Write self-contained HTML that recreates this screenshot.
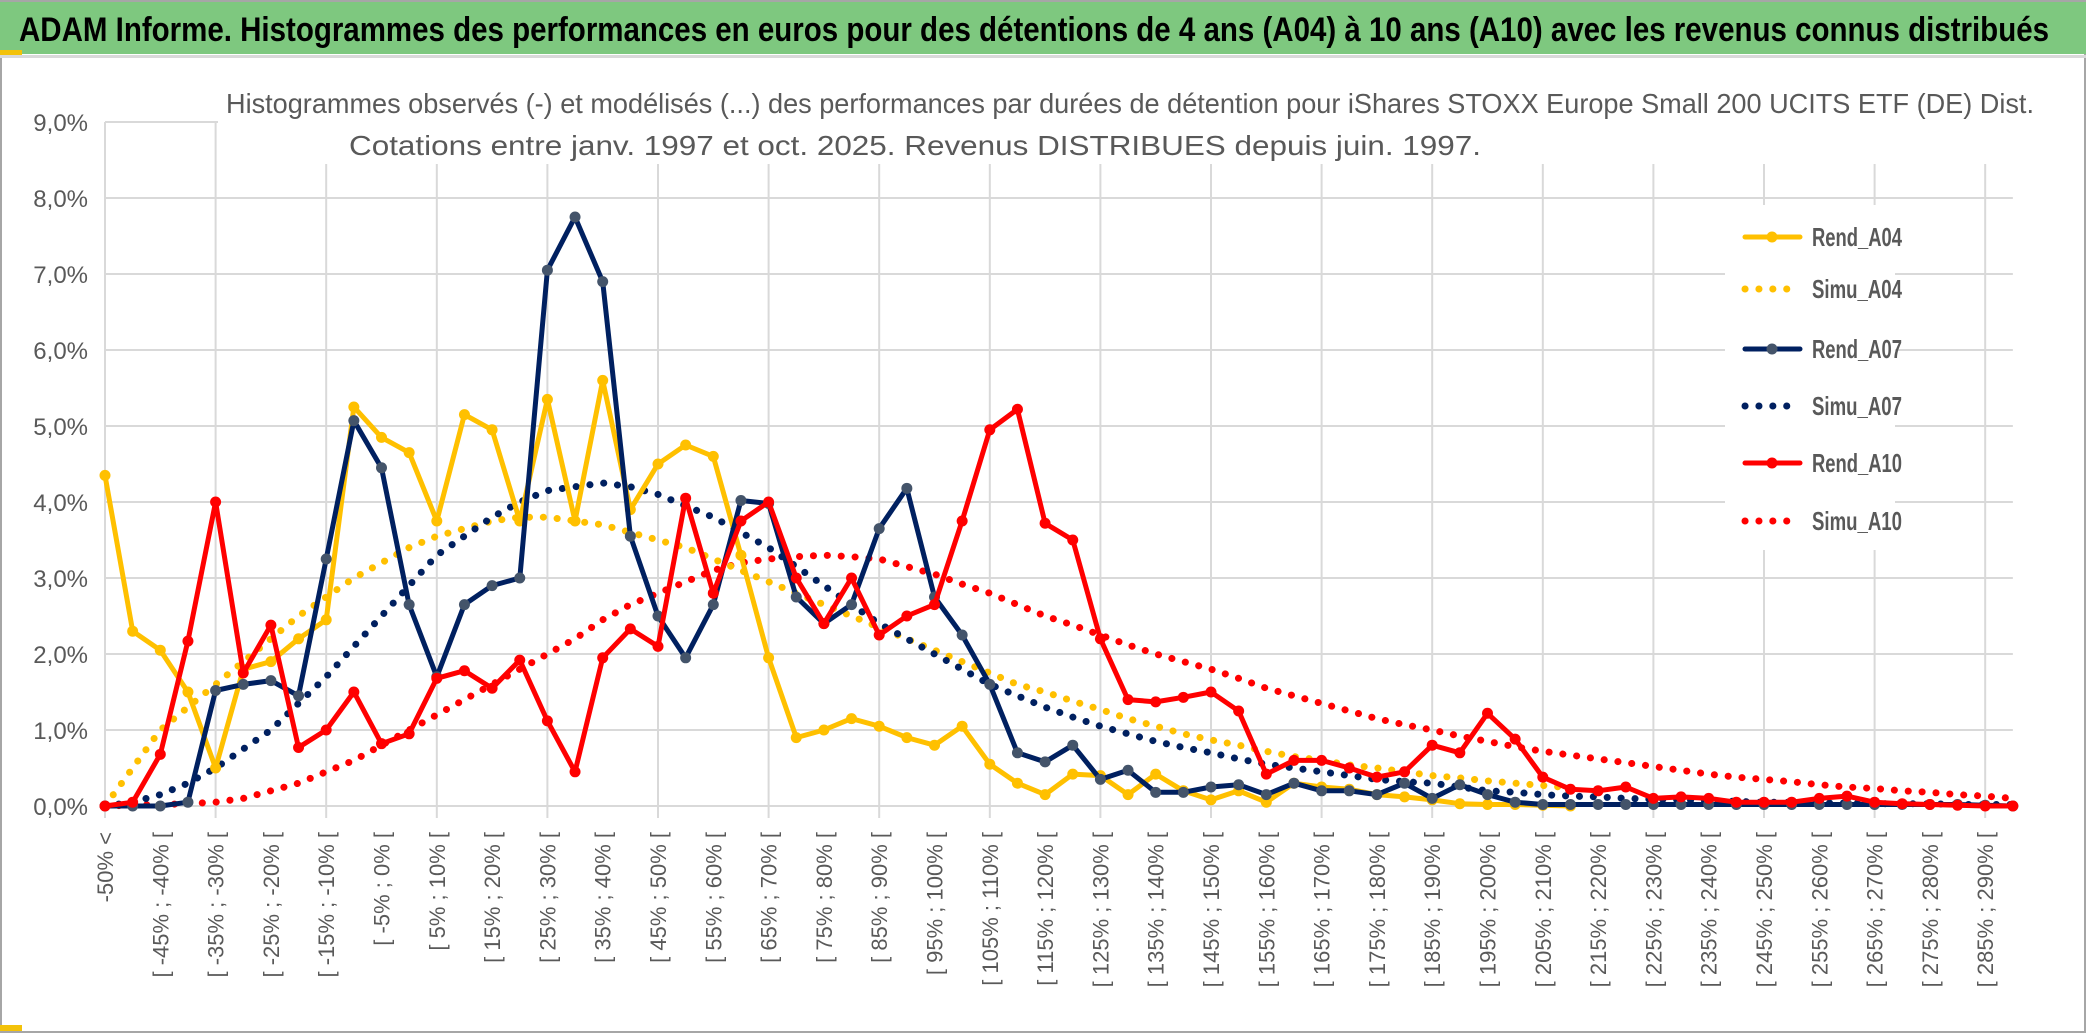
<!DOCTYPE html>
<html><head><meta charset="utf-8"><style>
html,body{margin:0;padding:0;background:#fff;}
svg{display:block;}
text{font-family:"Liberation Sans",sans-serif;}
</style></head><body>
<svg id="chart" width="2086" height="1033" viewBox="0 0 2086 1033" xmlns="http://www.w3.org/2000/svg">
<rect x="0" y="0" width="2086" height="1033" fill="#fff"/>
<rect x="1" y="1" width="2084" height="1031" fill="none" stroke="#a6a6a6" stroke-width="2"/>
<rect x="0" y="2" width="2086" height="52" fill="#7ec87f"/>
<rect x="0" y="50" width="22" height="5" fill="#f3c20a"/>
<rect x="0" y="55" width="2086" height="3" fill="#d9d9d9"/>
<rect x="0" y="1025" width="22" height="6" fill="#f3c20a"/>
<text x="1034" y="41" text-anchor="middle" font-size="34" font-weight="bold" fill="#000" textLength="2030" lengthAdjust="spacingAndGlyphs">ADAM Informe. Histogrammes des performances en euros pour des détentions de 4 ans (A04) à 10 ans (A10) avec les revenus connus distribués</text>
<g id="grid"></g>
<rect x="218" y="78" width="1820" height="86" fill="#fff"/>
<text x="1130" y="113" text-anchor="middle" font-size="28" fill="#595959" textLength="1808" lengthAdjust="spacingAndGlyphs">Histogrammes observés (-) et modélisés (...) des performances par durées de détention pour iShares STOXX Europe Small 200 UCITS ETF (DE) Dist.</text>
<text x="915" y="155" text-anchor="middle" font-size="28" fill="#595959" textLength="1132" lengthAdjust="spacingAndGlyphs">Cotations entre janv. 1997 et oct. 2025. Revenus DISTRIBUES depuis juin. 1997.</text>
<g id="yaxis"></g>
<g id="xaxis"></g>
<g id="series"></g>
<g id="legend"></g>
</svg>
<script>
const categories = ["-50% <"];
for (let k = 1; k < 70; k++) { const a = -50 + 5*(k-1); categories.push("[ " + a + "% ; " + (a+5) + "% ["); }
const yTicks = [0,1,2,3,4,5,6,7,8,9];
const rendA04 = [4.35,2.3,2.05,1.5,0.5,1.8,1.9,2.2,2.45,5.25,4.85,4.65,3.75,5.15,4.95,3.75,5.35,3.75,5.6,3.9,4.5,4.75,4.6,3.3,1.95,0.9,1.0,1.15,1.05,0.9,0.8,1.05,0.55,0.3,0.15,0.42,0.4,0.15,0.42,0.2,0.08,0.2,0.05,0.3,0.25,0.22,0.15,0.12,0.08,0.03,0.02,0.02,0.01,0,null,null,null,null,null,null,null,null,null,null,null,null,null,null,null,null];
const simuA04 = [0,0.5,1.0,1.3,1.6,1.9,2.2,2.5,2.75,3.0,3.2,3.4,3.55,3.65,3.75,3.8,3.8,3.75,3.7,3.6,3.5,3.4,3.25,3.1,2.95,2.8,2.65,2.5,2.35,2.2,2.05,1.9,1.75,1.6,1.5,1.38,1.27,1.15,1.05,0.95,0.87,0.8,0.72,0.65,0.6,0.54,0.5,0.45,0.4,0.37,0.33,0.3,0.27,0.24,null,null,null,null,null,null,null,null,null,null,null,null,null,null,null,null];
const rendA07 = [0,0,0,0.05,1.52,1.6,1.65,1.45,3.25,5.07,4.45,2.65,1.7,2.65,2.9,3.0,7.05,7.75,6.9,3.55,2.5,1.95,2.65,4.02,3.98,2.75,2.4,2.65,3.65,4.18,2.75,2.25,1.6,0.7,0.58,0.8,0.35,0.47,0.18,0.18,0.25,0.28,0.15,0.3,0.2,0.2,0.15,0.3,0.1,0.28,0.15,0.05,0.02,0.02,0.02,0.02,0.02,0.02,0.02,0.02,0.02,0.02,0.02,0.02,0.02,0.02,0.02,0.02,0.01,0];
const simuA07 = [0,0.05,0.15,0.3,0.5,0.75,1.0,1.35,1.7,2.1,2.5,2.9,3.3,3.55,3.8,4.0,4.15,4.2,4.25,4.2,4.1,3.95,3.8,3.6,3.4,3.15,2.9,2.65,2.4,2.2,2.0,1.8,1.6,1.45,1.3,1.17,1.05,0.95,0.85,0.77,0.7,0.62,0.55,0.5,0.45,0.4,0.35,0.32,0.3,0.25,0.2,0.18,0.15,0.13,0.12,0.1,0.09,0.08,0.07,0.06,0.05,0.05,0.04,0.04,0.03,0.03,0.03,0.02,0.02,0.02];
const rendA10 = [0,0.05,0.68,2.17,4.0,1.75,2.38,0.77,1.0,1.5,0.82,0.95,1.68,1.78,1.55,1.92,1.12,0.45,1.95,2.33,2.1,4.05,2.8,3.75,4.0,3.0,2.4,3.0,2.25,2.5,2.65,3.75,4.95,5.22,3.72,3.5,2.2,1.4,1.37,1.43,1.5,1.25,0.42,0.6,0.6,0.5,0.38,0.45,0.8,0.7,1.22,0.88,0.38,0.22,0.2,0.25,0.1,0.12,0.1,0.05,0.05,0.05,0.1,0.13,0.05,0.03,0.02,0.01,0,0];
const simuA10 = [0,0.01,0.02,0.03,0.05,0.1,0.2,0.3,0.45,0.6,0.8,1.0,1.2,1.4,1.6,1.8,2.0,2.2,2.45,2.65,2.8,2.95,3.1,3.2,3.25,3.28,3.3,3.28,3.25,3.15,3.05,2.92,2.8,2.65,2.5,2.38,2.25,2.12,2.0,1.9,1.8,1.68,1.55,1.45,1.35,1.25,1.15,1.07,1.0,0.92,0.85,0.78,0.72,0.67,0.62,0.57,0.52,0.47,0.42,0.38,0.35,0.32,0.28,0.25,0.23,0.2,0.18,0.15,0.13,0.1];
const seriesNames = ["Rend_A04","Simu_A04","Rend_A07","Simu_A07","Rend_A10","Simu_A10"];

const NS = "http://www.w3.org/2000/svg";
const X0 = 105, DX = 27.65, Y0 = 806, DY = 76.0;
function xs(i){ return X0 + i*DX; }
function ys(v){ return Y0 - v*DY; }
function mk(tag, attrs, parent){ const e = document.createElementNS(NS, tag); for (const k in attrs) e.setAttribute(k, attrs[k]); parent.appendChild(e); return e; }

const grid = document.getElementById('grid');
yTicks.forEach(t => {
  const l = mk('line', {x1:X0, x2:xs(69), y1:ys(t), y2:ys(t), stroke:'#d9d9d9', 'stroke-width':2}, grid);
  
  
});
for (let i = 0; i < categories.length; i += 4) {
  const l = mk('line', {x1:xs(i), x2:xs(i), y1:ys(9), y2:Y0+12, stroke:'#d9d9d9', 'stroke-width':2}, grid);
  
  
}
const yaxis = document.getElementById('yaxis');
yTicks.forEach(t => {
  const tx = mk('text', {x:88, y:ys(t)+9, 'text-anchor':'end', 'font-size':24, fill:'#595959'}, yaxis);
  tx.textContent = t.toFixed(1).replace('.', ',') + '%';
  
  
});
const xaxis = document.getElementById('xaxis');
for (let i = 0; i < categories.length; i += 2) {
  const tx = mk('text', {x:0, y:0, 'text-anchor':'end', 'font-size':22, fill:'#595959', transform:'translate(' + (xs(i)+8) + ',832) rotate(-90)'}, xaxis);
  tx.textContent = categories[i];
  
  
}
const ser = document.getElementById('series');
function drawLine(vals, color, dotted, marker, mcolor, name){
  const g = mk('g', {}, ser);
  
  
  let d = '', started = false;
  vals.forEach((v, i) => { if (v === null) { started = false; return; } d += (started ? 'L' : 'M') + xs(i).toFixed(1) + ' ' + ys(v).toFixed(1) + ' '; started = true; });
  const p = mk('path', {d:d, fill:'none', stroke:color, 'stroke-width': dotted ? 6 : 5, 'stroke-linejoin':'round', 'stroke-linecap':'round'}, g);
  if (dotted) { p.setAttribute('stroke-dasharray', '0.1 13.8'); p.setAttribute('stroke-width', 7); }
  
  
  if (marker) vals.forEach((v, i) => {
    if (v === null) return;
    const c = mk('circle', {cx:xs(i), cy:ys(v), r:5.5, fill:mcolor}, g);
    
    
  });
}
drawLine(simuA10, '#ff0000', true, false, null, 'simu-a10');
drawLine(simuA04, '#ffc000', true, false, null, 'simu-a04');
drawLine(simuA07, '#002060', true, false, null, 'simu-a07');
drawLine(rendA04, '#ffc000', false, true, '#ffc000', 'rend-a04');
drawLine(rendA07, '#002060', false, true, '#44546a', 'rend-a07');
drawLine(rendA10, '#ff0000', false, true, '#ff0000', 'rend-a10');

const leg = document.getElementById('legend');
const legColors = ['#ffc000','#ffc000','#002060','#002060','#ff0000','#ff0000'];
const legY = [237,289,349,406,463,521];
mk('rect', {x:1725, y:205, width:170, height:345, fill:'#fff'}, leg);
seriesNames.forEach((n, k) => {
  const g = mk('g', {}, leg);
  
  
  const dotted = n.startsWith('Simu');
  const l = mk('line', {x1:1745, x2:1800, y1:legY[k], y2:legY[k], stroke:legColors[k], 'stroke-width': dotted ? 7 : 5, 'stroke-linecap':'round'}, g);
  if (dotted) l.setAttribute('stroke-dasharray', '0.1 13.8');
  if (!dotted) mk('circle', {cx:1772, cy:legY[k], r:5.5, fill: k===2 ? '#44546a' : legColors[k]}, g);
  const t = mk('text', {x:1812, y:legY[k]+9, 'font-size':26, 'font-weight':'bold', fill:'#595959', textLength:90, lengthAdjust:'spacingAndGlyphs'}, g);
  t.textContent = n;
});
</script>
</body></html>
